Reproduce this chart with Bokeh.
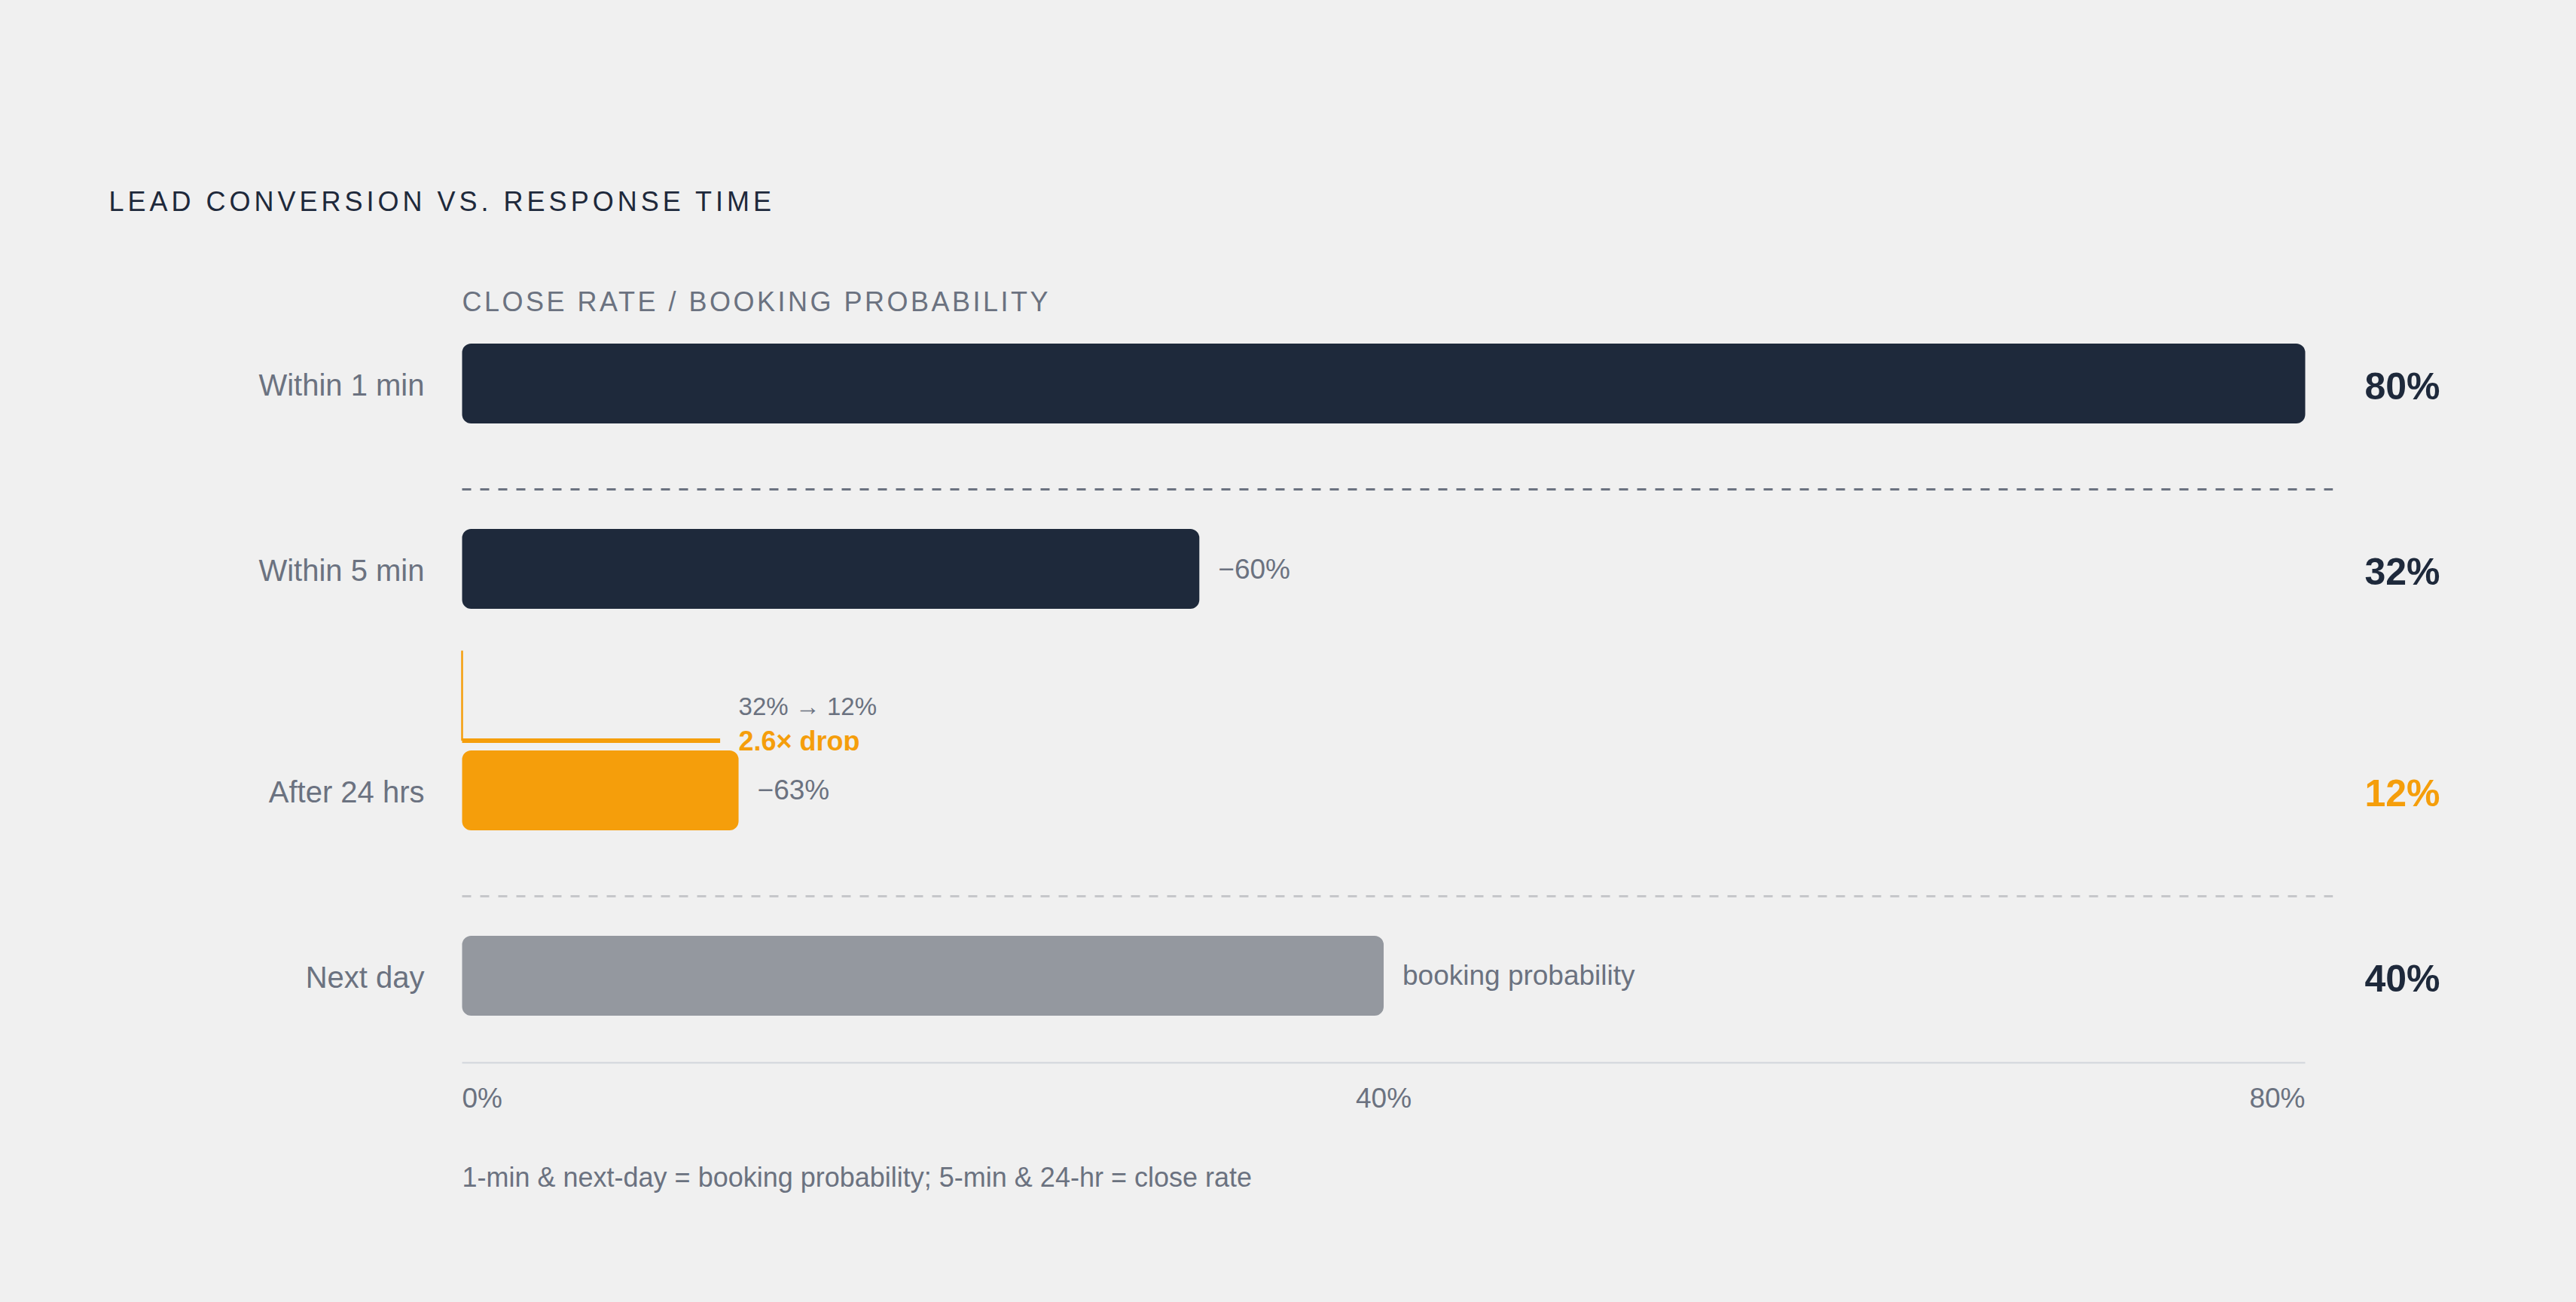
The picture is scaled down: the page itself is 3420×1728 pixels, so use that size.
from bokeh.plotting import figure
from bokeh.layouts import column
from bokeh.models import Range1d, ColumnDataSource
from bokeh.core.properties import value
from bokeh.embed import file_html
from bokeh.resources import INLINE

# ---- data ----
ROWS = ["Within 1 min", "Within 5 min", "After 24 hrs", "Next day"]
RATES = [80, 32, 12, 40]
NOTES = ["", "\u221260%", "\u221263%", "booking probability"]
TICKS = [0, 40, 80]
TICK_LABELS = ["0%", "40%", "80%"]

TITLE = "LEAD CONVERSION VS. RESPONSE TIME"
SUBTITLE = "CLOSE RATE / BOOKING PROBABILITY"
FOOTNOTE = "1-min & next-day = booking probability; 5-min & 24-hr = close rate"
DROP_FROM_TO = "32% \u2192 12%"
DROP_LABEL = "2.6\u00d7 drop"

# ---- style ----
BG = "#f0f0f0"
NAVY = "#1e293b"
ORANGE = "#f59e0b"
GRAY_TEXT = "#6b7280"
BAR_COLORS = [NAVY, NAVY, ORANGE, "#94989f"]
VALUE_COLORS = [NAVY, NAVY, ORANGE, NAVY]
FONT = value("Liberation Sans")

W = 3404
PX_PER_PCT = 2447 / 80          # 0..80% spans 2447px
LEFT_PX = 613                   # where 0% sits inside the figure
ROW_PX = 246                    # one row step in pixels
BAR_H = 106 / ROW_PX

# row positions: extra room above "After 24 hrs" for the drop annotation
row_y = []
pos = 0.0
for i in range(len(ROWS)):
    if i == 2:
        pos += 0.195
    row_y.append(pos)
    pos += 1

x_range = Range1d(-LEFT_PX / PX_PER_PCT, (W - LEFT_PX) / PX_PER_PCT)


def make_fig(height, y_range):
    p = figure(width=W, height=height, x_range=x_range, y_range=y_range,
               output_backend="svg", toolbar_location=None,
               x_axis_location=None, y_axis_location=None, min_border=0,
               background_fill_color=BG, border_fill_color=BG,
               outline_line_color=None)
    p.grid.visible = False
    return p


# ---- title block (letter-spaced) ----
head = make_fig(320, Range1d(320, 0))
head.stylesheets = [":host { letter-spacing: 5px; }"]
head.text(x=[0], y=[267], text=[TITLE], x_offset=-469,
          text_font=FONT, text_font_size="36px", text_color=NAVY,
          text_align="left", text_baseline="middle")

sub = make_fig(120, Range1d(120, 0))
sub.stylesheets = [":host { letter-spacing: 3.5px; }"]
sub.text(x=[0], y=[80], text=[SUBTITLE],
         text_font=FONT, text_font_size="36px", text_color=GRAY_TEXT,
         text_align="left", text_baseline="middle")

# ---- main chart ----
main_h = 1270
y_top = -68.5 / ROW_PX
p = make_fig(main_h, Range1d(y_top + main_h / ROW_PX, y_top))

src = ColumnDataSource(dict(y=row_y, rate=RATES, label=ROWS, note=NOTES,
                            val=[f"{r}%" for r in RATES],
                            bar_color=BAR_COLORS, val_color=VALUE_COLORS))

# separators (after first and third rows)
x_max = max(TICKS)
for i, col in [(0, "#6b7280"), (2, "#c6c7ca")]:
    ys = row_y[i] + 0.571
    p.line([0, x_max * 1.015], [ys, ys], line_color=col, line_width=3,
           line_dash="12 12")

p.hbar(y="y", left=0, right="rate", height=BAR_H, source=src,
       fill_color="bar_color", line_color=None, border_radius=12)

# drop bracket from 5-min row down to 24-hr row
r1, r2 = row_y[1], row_y[2]
p.line([0, 0], [r1 + 0.441, r2 - 0.268], line_color=ORANGE, line_width=2.5)
p.line([0, RATES[2] - 0.8], [r2 - 0.268, r2 - 0.268], line_color=ORANGE,
       line_width=6)
p.text(x=[RATES[2]], y=[r2 - 0.455], text=[DROP_FROM_TO], x_offset=0,
       text_font=FONT, text_font_size="33px", text_color=GRAY_TEXT,
       text_align="left", text_baseline="middle")
p.text(x=[RATES[2]], y=[r2 - 0.268], text=[DROP_LABEL],
       text_font=FONT, text_font_size="36px", text_font_style="bold",
       text_color=ORANGE, text_align="left", text_baseline="middle")
# the label is cut off at the top edge of the bar
p.quad(left=RATES[2] + 0.1, right=RATES[2] + 7, top=r2 - BAR_H / 2,
       bottom=r2 - BAR_H / 2 + 0.05, fill_color=BG, line_color=None)

# row labels, notes and big values
p.text(x=0, y="y", text="label", source=src, x_offset=-50, y_offset=2,
       text_font=FONT, text_font_size="40px", text_color=GRAY_TEXT,
       text_align="right", text_baseline="middle")
p.text(x="rate", y="y", text="note", source=src, x_offset=25,
       text_font=FONT, text_font_size="37px", text_color=GRAY_TEXT,
       text_align="left", text_baseline="middle")
p.text(x=x_max, y="y", text="val", source=src, x_offset=79, y_offset=4,
       text_font=FONT, text_font_size="50px", text_font_style="bold",
       text_color="val_color", text_align="left", text_baseline="middle")

# x axis line, tick labels, footnote
axis_y = row_y[-1] + 0.47
p.line([0, x_max], [axis_y, axis_y], line_color="#d1d5db", line_width=2)
for t, lab, align in zip(TICKS, TICK_LABELS, ["left", "center", "right"]):
    p.text(x=[t], y=[axis_y], text=[lab], y_offset=47,
           text_font=FONT, text_font_size="37px", text_color=GRAY_TEXT,
           text_align=align, text_baseline="middle")
p.text(x=[0], y=[axis_y], text=[FOOTNOTE], y_offset=152,
       text_font=FONT, text_font_size="36px", text_color=GRAY_TEXT,
       text_align="left", text_baseline="middle")

layout = column(head, sub, p, spacing=0)

html = file_html(layout, INLINE, title="Lead conversion vs. response time")
html = html.replace("<body>", '<body style="background:%s;">' % BG)
open("out.html", "w").write(html)
